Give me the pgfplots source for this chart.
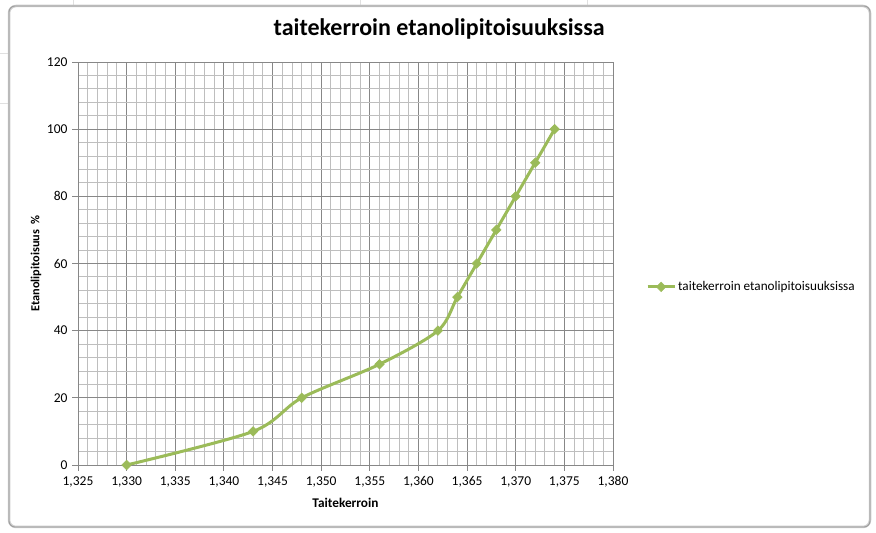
\documentclass[border=0pt]{standalone}
\usepackage{fontspec}
\setmainfont{Carlito}
\usepackage{pgfplots}
\pgfplotsset{compat=1.18}
\definecolor{exgreen}{HTML}{9BBB59}
\definecolor{majgrid}{HTML}{878787}
\definecolor{mingrid}{HTML}{BEBEBE}
\begin{document}
\begin{tikzpicture}
\path[use as bounding box] (0pt,0pt) rectangle (876pt,533pt);
\fill[white] (0pt,0pt) rectangle (876pt,533pt);
\draw[black!12, line width=0.8pt] (73pt,527pt) -- (73pt,533pt) (360pt,527pt) -- (360pt,533pt) (587pt,527pt)--(587pt,533pt) (0pt,480pt)--(9pt,480pt) (0pt,430pt)--(9pt,430pt);
\draw[black!20, line width=2.5pt, rounded corners=7pt] (9pt,6pt) rectangle (870pt,527pt);
\draw[black!40, line width=0.8pt, rounded corners=6pt] (9pt,6pt) rectangle (870pt,527pt);
\begin{axis}[
  at={(78pt,68pt)}, anchor=south west,
  scale only axis, width=535pt, height=403pt,
  xmin=1.325, xmax=1.380, ymin=0, ymax=120,
  xtick={1.325,1.330,1.335,1.340,1.345,1.350,1.355,1.360,1.365,1.370,1.375,1.380},
  ytick={0,20,40,60,80,100,120},
  minor x tick num=4, minor y tick num=4,
  grid=both,
  major grid style={majgrid, line width=0.9pt},
  minor grid style={mingrid, line width=0.9pt},
  axis line style={majgrid, line width=0.9pt},
  tick align=outside, major tick length=6pt, minor tick length=0pt,
  tick style={majgrid, line width=0.9pt},
  xtick pos=bottom, ytick pos=left,
  /pgf/number format/assume math mode=true,
  xticklabel style={/pgf/number format/.cd, fixed, fixed zerofill, precision=3, use comma, 1000 sep={}},
  yticklabel style={/pgf/number format/.cd, fixed, precision=0, 1000 sep={}},
  ticklabel style={font=\fontsize{13.5}{15}\selectfont, text=black},
  xticklabel shift=2pt, yticklabel shift=1pt,
  title={\bfseries taitekerroin etanolipitoisuuksissa},
  title style={font=\fontsize{24}{27}\selectfont, at={(axis description cs:0.675,1.066)}, anchor=center},
  xlabel={\bfseries Taitekerroin},
  xlabel style={font=\fontsize{13.3}{15}\selectfont, at={(axis description cs:0.5,-0.094)}, anchor=center},
  ylabel={\bfseries Etanolipitoisuus~~\%},
  ylabel style={font=\fontsize{12.3}{14}\selectfont, at={(axis description cs:-0.0785,0.5)}, anchor=center},
  legend style={at={(axis description cs:1,0.442)}, anchor=west, xshift=33pt, draw=none, fill=none, inner sep=0pt,
    font=\fontsize{13.2}{15}\selectfont, nodes={inner sep=2pt}},
  legend cell align=left,
  legend image code/.code={\draw[#1, mark repeat=2, mark phase=2] plot coordinates {(0pt,0pt) (13.5pt,0pt) (27pt,0pt)};},
]
\addplot[exgreen, line width=3pt, smooth, tension=0.5, mark=square*, mark size=3.4pt,
  mark options={rotate=45, solid, fill=exgreen, draw=exgreen, line width=0.5pt}]
  coordinates {
  (1.330,0) (1.343,10) (1.348,20) (1.356,30) (1.362,40) (1.364,50)
  (1.366,60) (1.368,70) (1.370,80) (1.372,90) (1.374,100)
  };
\addlegendentry{taitekerroin etanolipitoisuuksissa}
\end{axis}
\end{tikzpicture}
\end{document}
